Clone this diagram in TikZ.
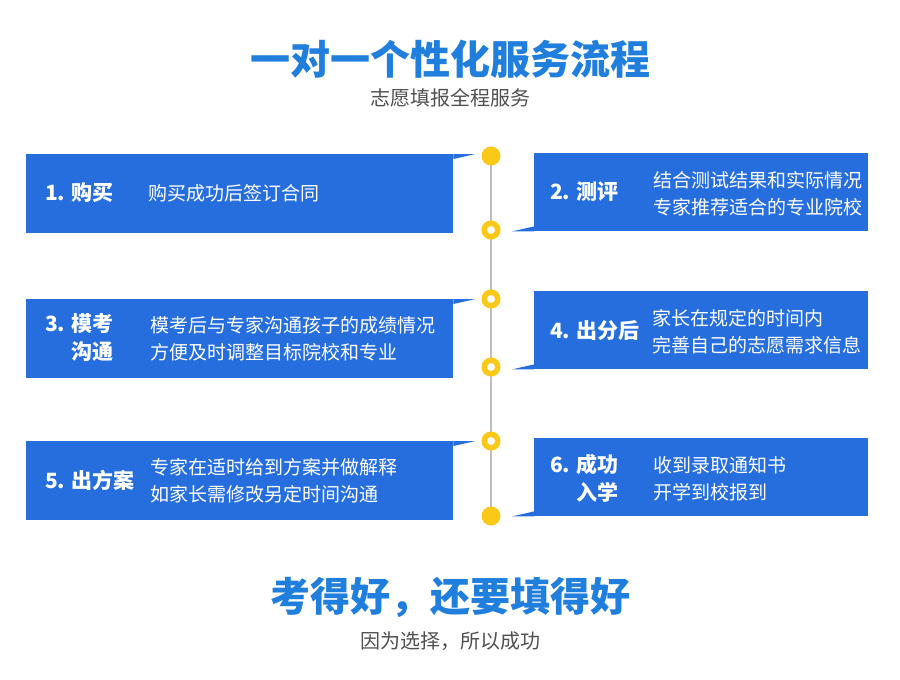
\documentclass[tikz,border=0pt]{standalone}
\usepackage{fontspec}
\setmainfont{Noto Sans CJK SC}
\usetikzlibrary{positioning, backgrounds}
\definecolor{boxblue}{RGB}{38,110,222}
\definecolor{titleblue}{RGB}{32,126,220}
\definecolor{dotyellow}{RGB}{250,200,22}
\definecolor{linegrey}{RGB}{190,190,190}
\definecolor{textgrey}{RGB}{80,80,80}
\tikzset{
  leftbox/.style={fill=boxblue, inner sep=0pt, anchor=north west,
    minimum width=427pt, minimum height=79pt},
  rightbox/.style={fill=boxblue, inner sep=0pt, anchor=north west,
    minimum width=334pt, minimum height=78pt},
  steplabel/.style={anchor=west, text=white, align=right, inner sep=0pt,
    font=\fontsize{21}{28}\selectfont\bfseries},
  stepdesc/.style={anchor=west, text=white, align=left, inner sep=0pt,
    font=\fontsize{19}{27}\selectfont},
  dot/.style={circle, fill=dotyellow, minimum size=19pt, inner sep=0pt},
  ring/.style={circle, draw=dotyellow, line width=5.5pt, fill=white,
    minimum size=13.5pt, inner sep=0pt},
}
\begin{document}
\begin{tikzpicture}[x=1pt, y=-1pt]
	\useasboundingbox (0,0) rectangle (900,680);

	\node[text=titleblue, font=\fontsize{40}{46}\selectfont\bfseries] (title) at (450,59) {一对一个性化服务流程};
	\node[text=textgrey, font=\fontsize{20}{24}\selectfont] (subtitle) at (450,98) {志愿填报全程服务};

	% boxes
	\node[leftbox] (b1) at (26,154) {};
	\node[rightbox] (b2) at (534,153) {};
	\node[leftbox] (b3) at (26,299) {};
	\node[rightbox] (b4) at (534,291) {};
	\node[leftbox] (b5) at (26,441) {};
	\node[rightbox] (b6) at (534,438) {};
	\foreach \b in {b1,b3,b5}
		\fill[boxblue] (\b.north east) -- ++(22,0) -- ++(-22,5) -- cycle;
	\foreach \b in {b2,b4,b6}
		\fill[boxblue] (\b.south west) -- ++(-22,0) -- ++(22,-5) -- cycle;

	% texts
	\node[steplabel] (l1) at (45,193) {1. 购买};
	\node[stepdesc] (t1) at (148,193) {购买成功后签订合同};
	\node[steplabel] (l2) at (550,192) {2. 测评};
	\node[stepdesc] (t2) at (653,194) {结合测试结果和实际情况\\专家推荐适合的专业院校};
	\node[steplabel] (l3) at (45,338) {3. 模考\\沟通};
	\node[stepdesc] (t3) at (150,339) {模考后与专家沟通孩子的成绩情况\\方便及时调整目标院校和专业};
	\node[steplabel] (l4) at (550,331) {4. 出分后};
	\node[stepdesc] (t4) at (652,332) {家长在规定的时间内\\完善自己的志愿需求信息};
	\node[steplabel] (l5) at (45,480) {5. 出方案};
	\node[stepdesc] (t5) at (150,481) {专家在适时给到方案并做解释\\如家长需修改另定时间沟通};
	\node[steplabel] (l6) at (550,478) {6. 成功\\入学};
	\node[stepdesc] (t6) at (653,479) {收到录取通知书\\开学到校报到};

	% timeline
	\node[dot] (d1) at (491,156) {};
	\node[ring] (d2) at (491,230) {};
	\node[ring] (d3) at (491,299) {};
	\node[ring] (d4) at (491,367) {};
	\node[ring] (d5) at (491,441) {};
	\node[dot] (d6) at (491,516) {};
	\begin{scope}[on background layer]
		\draw[linegrey, line width=1.2pt] (d1.center) -- (d6.center);
	\end{scope}

	\node[text=titleblue, font=\fontsize{40}{46}\selectfont\bfseries] (motto) at (450,597) {考得好，还要填得好};
	\node[text=textgrey, font=\fontsize{20}{24}\selectfont] (mottosub) at (450,641) {因为选择，所以成功};
\end{tikzpicture}
\end{document}
